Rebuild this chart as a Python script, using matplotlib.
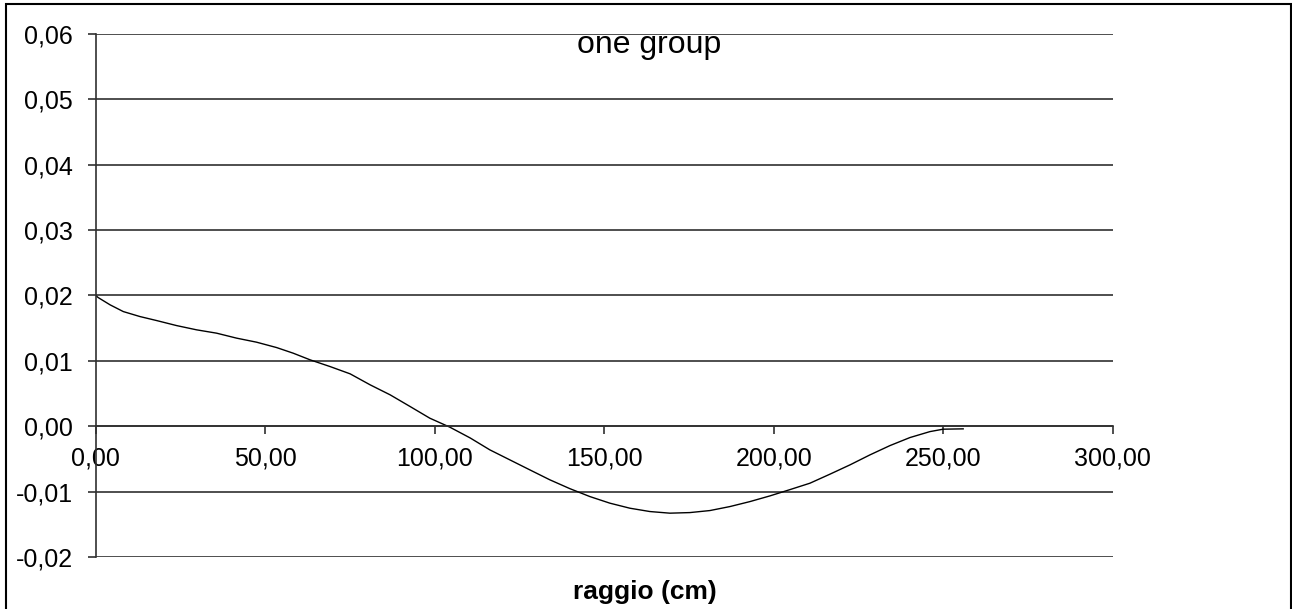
import matplotlib.pyplot as plt
from matplotlib.ticker import FuncFormatter, MultipleLocator
from matplotlib.patches import Rectangle

# Dati
raggio = [0, 0.8, 4.3, 8.2, 13.1, 18.0, 23.9, 29.8, 35.7, 41.6, 47.5, 53.4,
          58.3, 63.3, 69.2, 75.1, 81.0, 86.9, 92.8, 98.6, 104.5, 110.5,
          116.3, 122.2, 128.1, 134.0, 139.9, 145.8, 151.7, 157.6, 163.5,
          169.4, 175.3, 181.2, 187.1, 193.0, 198.9, 204.8, 210.7, 216.6,
          222.5, 228.4, 234.3, 240.2, 246.1, 250.0, 255.9]
flusso = [0.0200, 0.01966, 0.01855, 0.01752, 0.01676, 0.01615, 0.01538,
          0.01473, 0.01422, 0.01346, 0.01284, 0.01202, 0.01116, 0.01014,
          0.00911, 0.0080, 0.00632, 0.00479, 0.0030, 0.00122, -0.00015,
          -0.0018, -0.00362, -0.00515, -0.00668, -0.0082, -0.00955, -0.01076,
          -0.01177, -0.01254, -0.01305, -0.0133, -0.01321, -0.0129, -0.01229,
          -0.01153, -0.01066, -0.0097, -0.00872, -0.00734, -0.00592, -0.00439,
          -0.00297, -0.00174, -0.00083, -0.00046, -0.00041]

plt.rcParams['font.family'] = ['Liberation Sans', 'DejaVu Sans']

W, H = 1292, 609
fig = plt.figure(figsize=(W / 100, H / 100), dpi=100)
ax = fig.add_axes([95.5 / W, 52 / H, (1112.7 - 95.5) / W, (557 - 33.7) / H])

ax.plot(raggio, flusso, color='black', lw=1.0)

ax.set_xlim(0, 300)
ax.set_ylim(-0.02, 0.06)
ax.xaxis.set_major_locator(MultipleLocator(50))
ax.yaxis.set_major_locator(MultipleLocator(0.01))

virgola = FuncFormatter(lambda v, p: f'{v:.2f}'.replace('.', ',').replace('-0,00', '0,00'))
ax.xaxis.set_major_formatter(virgola)
ax.yaxis.set_major_formatter(virgola)

grigio = '#303030'
ax.grid(True, axis='y', color=grigio, lw=1.2)
ax.set_axisbelow(True)
for s in ['top', 'right']:
    ax.spines[s].set_visible(False)
ax.spines['bottom'].set_position(('data', 0))
ax.spines['bottom'].set_color(grigio)
ax.spines['left'].set_color(grigio)
ax.spines['bottom'].set_linewidth(1.2)
ax.spines['left'].set_linewidth(1.2)
ax.tick_params(axis='both', colors=grigio, labelcolor='black', labelsize=18,
               length=5.8, width=1.2)
ax.tick_params(axis='x', pad=9)
ax.tick_params(axis='y', pad=10.5)

fig.text(649.5 / W, 1 - 53.5 / H, 'one group', ha='center', va='baseline', fontsize=23)
fig.text(645 / W, 1 - 599.5 / H, 'raggio (cm)', ha='center', va='baseline',
         fontsize=19, fontweight='bold')

fig.patches.append(Rectangle((6 / W, -0.01), (1291 - 6) / W, 1 - 4 / H + 0.01,
                             transform=fig.transFigure, fill=False,
                             edgecolor='black', lw=1.5))

fig.savefig('out.png', dpi=100)
